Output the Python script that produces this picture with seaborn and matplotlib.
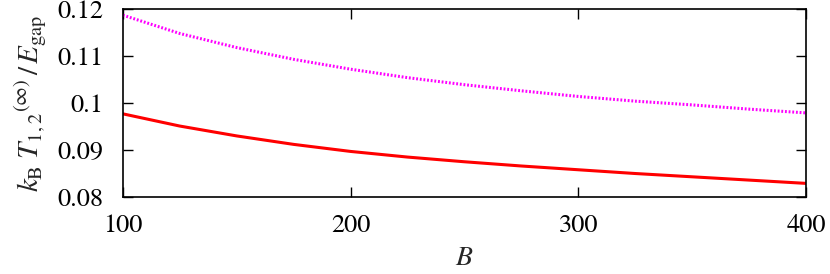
import matplotlib
matplotlib.use("Agg")
import matplotlib.pyplot as plt
import seaborn as sns
import pandas as pd

B = [100, 125, 150, 175, 200, 225, 250, 275, 300, 325, 350, 375, 400]
red_vals = [0.0977, 0.0951, 0.0930, 0.0912, 0.0897, 0.0885, 0.0875, 0.0866, 0.0858, 0.0850, 0.0843, 0.0836, 0.0829]
mag_vals = [0.1187, 0.1148, 0.1118, 0.1093, 0.1072, 0.1054, 0.1039, 0.1026, 0.1014, 0.1004, 0.0996, 0.0987, 0.0979]
xticks = [100, 200, 300, 400]
yticks = [0.08, 0.09, 0.10, 0.11, 0.12]
ytick_labels = ["0.08", "0.09", "0.1", "0.11", "0.12"]

sns.set_style("ticks")
plt.rcParams['font.family'] = ['STIXGeneral', 'Liberation Serif', 'DejaVu Serif']
plt.rcParams['mathtext.fontset'] = 'stix'

fig = plt.figure(figsize=(8.3, 2.74), dpi=100)
ax = fig.add_axes([0.148, 0.281, 0.823, 0.686])

df_red = pd.DataFrame({"B": B, "v": red_vals})
df_mag = pd.DataFrame({"B": B, "v": mag_vals})
sns.lineplot(data=df_red, x="B", y="v", ax=ax, color="#ff0000", lw=2.2)
sns.lineplot(data=df_mag, x="B", y="v", ax=ax, color="#ff00ff", lw=2.2,
             linestyle=(0, (0.6, 0.6)))

ax.set_xlim(100, 400)
ax.set_ylim(0.08, 0.12)
ax.set_xticks(xticks)
ax.set_xticklabels([str(t) for t in xticks])
ax.set_yticks(yticks)
ax.set_yticklabels(ytick_labels)
ax.tick_params(direction="in", length=7, width=1, top=True, right=True,
               labelsize=19, colors="black")
ax.tick_params(axis="x", pad=12)
ax.tick_params(axis="y", pad=14)
for s in ax.spines.values():
    s.set_linewidth(1.2)
    s.set_color("black")
    s.set_visible(True)

ax.set_xlabel(r"$B$", fontsize=20, labelpad=6)
ax.set_ylabel(r"$k_\mathrm{B}\;T_{\mathit{1,2}}{}^{(\infty)}\,/\,E_\mathrm{gap}$", fontsize=21, labelpad=6)

fig.savefig("out.png", dpi=100)
